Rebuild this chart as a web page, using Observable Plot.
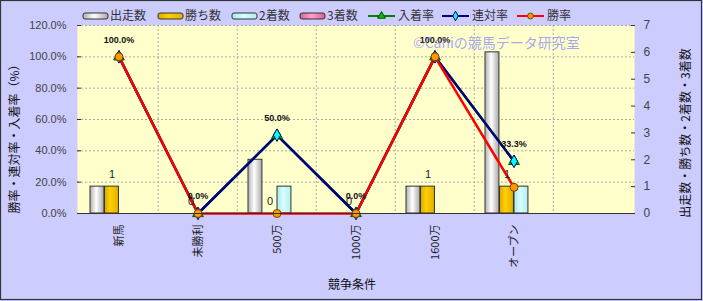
<!DOCTYPE html>
<html><head><meta charset="utf-8">
<script src="https://cdn.jsdelivr.net/npm/d3@7"></script>
<script src="https://cdn.jsdelivr.net/npm/@observablehq/plot@0.6"></script>
<style>
html,body{margin:0;padding:0;background:#CCCCFF;}
#chart svg{display:block;}
</style>
</head><body><div id="chart"></div>
<script>
// ---- data ----
const categories = ["新馬", "未勝利", "500万", "1000万", "1600万", "オープン", ""];
const starts  = [1, 0, 2, 0, 1, 6, null];   // 出走数
const wins    = [1, 0, 0, 0, 1, 1, null];   // 勝ち数
const seconds = [0, 0, 1, 0, 0, 1, null];   // 2着数
const thirds  = [0, 0, 0, 0, 0, 0, null];   // 3着数
const placeRate  = [100, 0, 50, 0, 100, 33.3, null]; // 入着率
const rentaiRate = [100, 0, 50, 0, 100, 33.3, null]; // 連対率
const winRate    = [100, 0, 0, 0, 100, 16.7, null];  // 勝率
const rateTicks  = [0, 20, 40, 60, 80, 100, 120];
const countTicks = [0, 1, 2, 3, 4, 5, 6, 7];

// ---- layout ----
const W = 703, H = 301, mL = 77, mR = 69, mT = 25, mB = 88;
const bw = (W - mL - mR) / categories.length;
const barW = 14.5, gap = 11;
const countMax = 7, rateMax = 120;
const toY = v => v * rateMax / countMax;
const JP = "'Noto Sans CJK JP','Noto Sans',sans-serif";

const rows = categories.map((c, i) => ({
  cat: c, starts: starts[i], wins: wins[i], seconds: seconds[i], thirds: thirds[i],
  place: placeRate[i], rentai: rentaiRate[i], win: winRate[i]
}));

const barSeries = [
  {key: "starts", fill: "url(#gWhite)"},
  {key: "wins", fill: "url(#gGold)"},
  {key: "seconds", fill: "url(#gCyan)"},
  {key: "thirds", fill: "url(#gPink)"}
];

function defs() {
  const d = d3.create("svg:defs");
  const mk = (id, stops) => {
    const g = d.append("linearGradient").attr("id", id).attr("x1", 0).attr("x2", 1).attr("y1", 0).attr("y2", 0);
    stops.forEach(([o, c]) => g.append("stop").attr("offset", o).attr("stop-color", c));
  };
  mk("gWhite", [[0, "#b0b0b0"], [0.45, "#ffffff"], [1, "#a8a8a8"]]);
  mk("gGold", [[0, "#d9a800"], [0.4, "#ffd000"], [1, "#e0b000"]]);
  mk("gCyan", [[0, "#a8e8e8"], [0.45, "#d8ffff"], [1, "#b0eeee"]]);
  mk("gPink", [[0, "#d86090"], [0.45, "#ffa0c8"], [1, "#d86090"]]);
  return d.node();
}

const barMarks = barSeries.map((s, k) =>
  Plot.barY(rows.filter(d => d[s.key] != null && d[s.key] > 0), {
    x: "cat", y: d => toY(d[s.key]), fill: s.fill, stroke: "#333", strokeWidth: 1,
    insetLeft: gap + barW * k, insetRight: bw - gap - barW * (k + 1)
  })
);

const rateRows = rows.filter(d => d.win != null);

const chart = Plot.plot({
  width: W, height: H,
  marginLeft: mL, marginRight: mR, marginTop: mT, marginBottom: mB,
  style: {background: "#CCCCFF", fontFamily: "'Liberation Sans',Arial,sans-serif", overflow: "visible"},
  x: {type: "band", domain: categories, padding: 0},
  y: {domain: [0, rateMax], range: [H - mB, mT]},
  marks: [
    defs,
    Plot.frame({fill: "#FFFFCC", stroke: null}),
    Plot.gridY({ticks: rateTicks.slice(1), stroke: "#aaa", strokeOpacity: 1, strokeDasharray: "2,2"}),
    Plot.ruleX(categories.slice(1), {dx: -bw / 2, stroke: "#aaa", strokeDasharray: "2,2"}),
    ...barMarks,
    Plot.line(rows, {x: "cat", y: "place", stroke: "#008000", strokeWidth: 2.5}),
    Plot.line(rows, {x: "cat", y: "rentai", stroke: "#000080", strokeWidth: 2.5}),
    Plot.line(rows, {x: "cat", y: "win", stroke: "#FF0000", strokeWidth: 2.5}),
    Plot.dot(rateRows, {x: "cat", y: "place", symbol: "triangle", r: 4, fill: "#00c000", stroke: "#005000", strokeWidth: 1}),
    Plot.dot(rateRows, {x: "cat", y: "rentai", symbol: "diamond", r: 3.8, fill: "#00FFFF", stroke: "#000060", strokeWidth: 1}),
    Plot.dot(rateRows, {x: "cat", y: "win", symbol: "circle", r: 4, fill: "#FF9900", stroke: "#804000", strokeWidth: 1}),
    Plot.text(rows.filter(d => d.wins != null), {
      x: "cat", y: d => toY(d.wins), text: d => String(d.wins),
      dx: -bw / 2 + gap + barW * 1.5, dy: -12.5, fontSize: 11, fill: "#222"
    }),
    Plot.text(rateRows, {
      x: "cat", y: "rentai", text: d => d.rentai.toFixed(1) + "%",
      dy: -17, fontSize: 9, fontWeight: "bold", fill: "#111"
    }),
    Plot.ruleY([0], {stroke: "#333", strokeWidth: 1}),
    Plot.axisY({anchor: "left", ticks: rateTicks, tickFormat: d => d.toFixed(1) + "%",
      tickSize: -4, tickPadding: 15, fontSize: 11, color: "#444", stroke: "#333", label: null, line: true}),
    Plot.axisY({anchor: "right", ticks: countTicks.map(toY), tickFormat: d => String(Math.round(d * countMax / rateMax)),
      tickSize: -4, tickPadding: 13, fontSize: 12, color: "#444", stroke: "#333", label: null, line: true}),
    Plot.axisX({tickRotate: -90, tickSize: 0, tickPadding: 11, fontSize: 11, fill: "#222", fontFamily: JP, label: null})
  ]
});

const svg = d3.select(chart);
// outer border
svg.append("rect").attr("x", 0.5).attr("y", 0.5).attr("width", 701).attr("height", 299)
  .attr("fill", "none").attr("stroke", "#333").attr("stroke-width", 1.2);

// axis titles
svg.append("text").attr("transform", "translate(19,136) rotate(-90)")
  .attr("text-anchor", "middle").attr("font-family", JP).attr("font-size", 12).attr("fill", "#111")
  .text("勝率・連対率・入着率（%）");
svg.append("text").attr("transform", "translate(690,133) rotate(-90)")
  .attr("text-anchor", "middle").attr("font-family", JP).attr("font-size", 12).attr("fill", "#111")
  .text("出走数・勝ち数・2着数・3着数");
svg.append("text").attr("x", 352).attr("y", 289)
  .attr("text-anchor", "middle").attr("font-family", JP).attr("font-size", 12).attr("fill", "#111")
  .text("競争条件");

// watermark
svg.append("text").attr("x", 413).attr("y", 48).attr("text-anchor", "start").attr("font-family", JP).attr("font-size", 14)
  .attr("fill", "#7f7fff").attr("fill-opacity", 0.7).text("©Caniの競馬データ研究室");

// legend
const lg = svg.append("g").attr("font-family", JP).attr("font-size", 12).attr("fill", "#333").attr("text-anchor", "start");
const boxItems = [
  {x: 83, label: "出走数", fill: "url(#gWhite)"},
  {x: 158, label: "勝ち数", fill: "url(#gGold)"},
  {x: 232, label: "2着数", fill: "url(#gCyan)"},
  {x: 300, label: "3着数", fill: "url(#gPink)"}
];
boxItems.forEach(it => {
  lg.append("rect").attr("x", it.x).attr("y", 13).attr("width", 25).attr("height", 6).attr("rx", 2)
    .attr("fill", it.fill).attr("stroke", "#333").attr("stroke-width", 1);
  lg.append("text").attr("x", it.x + 27).attr("y", 16).attr("dy", "0.36em").text(it.label);
});
const lineItems = [
  {x: 368, label: "入着率", stroke: "#008000", sym: d3.symbolTriangle, fill: "#00c000", ms: "#005000"},
  {x: 442, label: "連対率", stroke: "#000080", sym: d3.symbolDiamond, fill: "#00FFFF", ms: "#000060"},
  {x: 517, label: "勝率", stroke: "#FF0000", sym: d3.symbolCircle, fill: "#FF9900", ms: "#804000"}
];
lineItems.forEach(it => {
  lg.append("line").attr("x1", it.x).attr("x2", it.x + 27).attr("y1", 16).attr("y2", 16)
    .attr("stroke", it.stroke).attr("stroke-width", 2);
  lg.append("path").attr("d", d3.symbol(it.sym, 26)()).attr("transform", `translate(${it.x + 13.5},16)`)
    .attr("fill", it.fill).attr("stroke", it.ms).attr("stroke-width", 1);
  lg.append("text").attr("x", it.x + 30).attr("y", 16).attr("dy", "0.36em").text(it.label);
});

document.getElementById("chart").appendChild(chart);
</script>
</body></html>
